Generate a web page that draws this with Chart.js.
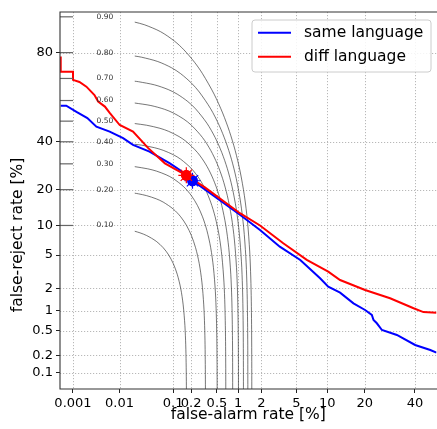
<!DOCTYPE html>
<html><head><meta charset="utf-8">
<script src="https://cdn.jsdelivr.net/npm/chart.js@4.4.1/dist/chart.umd.min.js"></script>
<style>html,body{margin:0;padding:0;background:#fff;}#wrap{width:437px;height:429px;position:relative;}</style>
</head><body><div id="wrap"><canvas id="c" width="437" height="429"></canvas></div>
<script>
// ---- axis ticks (percent) ----
const xTickValues = [0.001, 0.01, 0.1, 0.2, 0.5, 1, 2, 5, 10, 20, 40];
const xTickLabels = ['0.001', '0.01', '0.1', '0.2', '0.5', '1', '2', '5', '10', '20', '40'];
const yTickValues = [0.1, 0.2, 0.5, 1, 2, 5, 10, 20, 40, 80];
const yTickLabels = ['0.1', '0.2', '0.5', '1', '2', '5', '10', '20', '40', '80'];
const xLimits = [0.0005, 50];
const yLimits = [0.05, 91];
const xTitle = 'false-alarm rate [%]';
const yTitle = 'false-reject rate [%]';

// ---- series (false-alarm %, false-reject %) ----
const seriesNames = ['same language', 'diff language'];
const sameFA = [0.00052, 0.0007, 0.0012, 0.0021, 0.0033, 0.0063, 0.0118, 0.0185, 0.038, 0.088, 0.13, 0.21, 0.329, 1.054, 1.92, 3.3, 5.5, 8.6, 10.2, 12.9, 16.5, 20.1, 22.4, 23.0, 24.2, 26.1, 32.1, 40.1, 47.1, 50];
const sameFR = [57.5, 57.5, 54.5, 51.5, 47.3, 44.9, 41.7, 38.5, 35.4, 30.2, 27.4, 23.2, 20.1, 12.5, 9.07, 6.15, 4.41, 2.68, 2.10, 1.755, 1.26, 1.018, 0.863, 0.729, 0.651, 0.515, 0.431, 0.298, 0.247, 0.223];
const diffFA = [0.00052, 0.00052, 0.001, 0.001, 0.0014, 0.002, 0.003, 0.0036, 0.005, 0.0063, 0.0101, 0.0185, 0.036, 0.072, 0.1667, 0.329, 1.054, 1.92, 3.61, 6.4, 10.2, 12.9, 20.1, 29.3, 39.4, 43.9, 50];
const diffFR = [78.6, 72.8, 72.8, 69.4, 68.5, 66.4, 62.6, 59.5, 57.1, 54.0, 48.1, 44.9, 37.0, 30.2, 25.3, 20.8, 12.9, 10.0, 6.68, 4.41, 3.22, 2.55, 1.90, 1.48, 1.076, 0.95, 0.931];
// operating points (false-alarm %, false-reject %)
const samePoint = [0.21, 23.2];
const diffPoint = [0.1667, 25.3];

// ---- cost contours ----
const contourLevels = [0.10, 0.20, 0.30, 0.40, 0.50, 0.60, 0.70, 0.80, 0.90];
const contourLabels = ['0.10', '0.20', '0.30', '0.40', '0.50', '0.60', '0.70', '0.80', '0.90'];
const contourFA = [
  [0.02, 0.0252, 0.0336, 0.0504, 0.0672, 0.084, 0.1008, 0.1176, 0.1345, 0.1479, 0.158, 0.163, 0.1655, 0.1669, 0.1676, 0.1679, 0.168],
  [0.02, 0.0235, 0.0336, 0.0504, 0.0672, 0.1008, 0.1345, 0.168, 0.2016, 0.2352, 0.269, 0.2958, 0.316, 0.326, 0.331, 0.3338, 0.3352, 0.3358, 0.336],
  [0.02, 0.0353, 0.0504, 0.0756, 0.1008, 0.1512, 0.2016, 0.252, 0.3024, 0.3528, 0.4034, 0.4437, 0.474, 0.489, 0.4965, 0.5007, 0.5028, 0.5037, 0.504],
  [0.02, 0.0269, 0.047, 0.0672, 0.1008, 0.1345, 0.2017, 0.269, 0.336, 0.403, 0.470, 0.538, 0.5916, 0.632, 0.652, 0.662, 0.6676, 0.6704, 0.6716, 0.672],
  [0.02, 0.0336, 0.0588, 0.084, 0.126, 0.168, 0.252, 0.336, 0.42, 0.504, 0.588, 0.672, 0.7395, 0.79, 0.815, 0.8275, 0.8345, 0.838, 0.8395, 0.840],
  [0.02, 0.0403, 0.0706, 0.1008, 0.1512, 0.2017, 0.3025, 0.4034, 0.5042, 0.605, 0.706, 0.807, 0.8874, 0.948, 0.978, 0.993, 1.0014, 1.0056, 1.0074, 1.008],
  [0.02, 0.0235, 0.0471, 0.0824, 0.1176, 0.1765, 0.2353, 0.353, 0.4706, 0.588, 0.706, 0.8235, 0.941, 1.035, 1.106, 1.141, 1.1586, 1.168, 1.173, 1.1753, 1.176],
  [0.02, 0.0269, 0.0538, 0.0941, 0.1345, 0.2017, 0.269, 0.4034, 0.538, 0.672, 0.807, 0.941, 1.0756, 1.183, 1.264, 1.304, 1.324, 1.335, 1.341, 1.343, 1.344],
  [0.02, 0.0303, 0.0605, 0.1059, 0.1513, 0.2269, 0.3025, 0.4538, 0.605, 0.7563, 0.9076, 1.0588, 1.21, 1.331, 1.422, 1.467, 1.49, 1.502, 1.508, 1.511, 1.512]
];
const contourFR = [
  [8.81, 8.5, 8, 7, 6, 5, 4, 3, 2, 1.2, 0.6, 0.3, 0.15, 0.07, 0.03, 0.01, 0.003],
  [18.81, 18.6, 18, 17, 16, 14, 12, 10, 8, 6, 4, 2.4, 1.2, 0.6, 0.3, 0.14, 0.06, 0.02, 0.006],
  [28.81, 27.9, 27, 25.5, 24, 21, 18, 15, 12, 9, 6, 3.6, 1.8, 0.9, 0.45, 0.21, 0.09, 0.03, 0.009],
  [38.81, 38.4, 37.2, 36, 34, 32, 28, 24, 20, 16, 12, 8, 4.8, 2.4, 1.2, 0.6, 0.28, 0.12, 0.04, 0.012],
  [48.81, 48, 46.5, 45, 42.5, 40, 35, 30, 25, 20, 15, 10, 6, 3, 1.5, 0.75, 0.35, 0.15, 0.05, 0.015],
  [58.81, 57.6, 55.8, 54, 51, 48, 42, 36, 30, 24, 18, 12, 7.2, 3.6, 1.8, 0.9, 0.42, 0.18, 0.06, 0.018],
  [68.81, 68.6, 67.2, 65.1, 63, 59.5, 56, 49, 42, 35, 28, 21, 14, 8.4, 4.2, 2.1, 1.05, 0.49, 0.21, 0.07, 0.021],
  [78.81, 78.4, 76.8, 74.4, 72, 68, 64, 56, 48, 40, 32, 24, 16, 9.6, 4.8, 2.4, 1.2, 0.56, 0.24, 0.08, 0.024],
  [88.81, 88.2, 86.4, 83.7, 81, 76.5, 72, 63, 54, 45, 36, 27, 18, 10.8, 5.4, 2.7, 1.35, 0.63, 0.27, 0.09, 0.027]
];
const contourLabelFA = 0.005;      // where the level labels sit
const contourStubFA = [0.0005, 0.001];

// ---- normal-deviate (probit) transform ----
function probit(p) {
  const a = [-3.969683028665376e+01, 2.209460984245205e+02, -2.759285104469687e+02, 1.383577518672690e+02, -3.066479806614716e+01, 2.506628277459239e+00];
  const b = [-5.447609879822406e+01, 1.615858368580409e+02, -1.556989798598866e+02, 6.680131188771972e+01, -1.328068155288572e+01];
  const c = [-7.784894002430293e-03, -3.223964580411365e-01, -2.400758277161838e+00, -2.549732539343734e+00, 4.374664141464968e+00, 2.938163982698783e+00];
  const d = [7.784695709041462e-03, 3.224671290700398e-01, 2.445134137142996e+00, 3.754408661907416e+00];
  const pl = 0.02425, ph = 1 - pl; let q, r;
  if (p < pl) { q = Math.sqrt(-2 * Math.log(p)); return (((((c[0]*q+c[1])*q+c[2])*q+c[3])*q+c[4])*q+c[5]) / ((((d[0]*q+d[1])*q+d[2])*q+d[3])*q+1); }
  if (p <= ph) { q = p - 0.5; r = q*q; return (((((a[0]*r+a[1])*r+a[2])*r+a[3])*r+a[4])*r+a[5])*q / (((((b[0]*r+b[1])*r+b[2])*r+b[3])*r+b[4])*r+1); }
  q = Math.sqrt(-2 * Math.log(1 - p)); return -(((((c[0]*q+c[1])*q+c[2])*q+c[3])*q+c[4])*q+c[5]) / ((((d[0]*q+d[1])*q+d[2])*q+d[3])*q+1);
}
const pp = v => probit(v / 100);
const toPts = (fa, fr) => fa.map((v, i) => ({ x: pp(v), y: pp(fr[i]) }));

const FONT = "'DejaVu Sans', 'Liberation Sans', sans-serif";

const datasets = [];
contourFA.forEach((fa, k) => {
  datasets.push({ data: toPts(fa, contourFR[k]), showLine: true, borderColor: 'rgba(40,40,40,0.8)', borderWidth: 0.8,
    pointRadius: 0, tension: 0.3, clip: 0, order: 20 });
});
datasets.push({ label: seriesNames[0], data: toPts(sameFA, sameFR), showLine: true, borderColor: '#0000ff', borderWidth: 2, pointRadius: 0, tension: 0, clip: 0, order: 6 });
datasets.push({ label: seriesNames[1], data: toPts(diffFA, diffFR), showLine: true, borderColor: '#ff0000', borderWidth: 2, pointRadius: 0, tension: 0, clip: 0, order: 5 });
datasets.push({ data: [{ x: pp(samePoint[0]), y: pp(samePoint[1]) }], pointStyle: 'star', pointRadius: 8, borderColor: '#0000ff', pointBorderWidth: 1.2, backgroundColor: '#0000ff', order: 4 });
datasets.push({ data: [{ x: pp(samePoint[0]), y: pp(samePoint[1]) }], pointStyle: 'circle', pointRadius: 5.5, borderColor: '#0000ff', backgroundColor: '#0000ff', pointBorderWidth: 0, order: 3 });
datasets.push({ data: [{ x: pp(diffPoint[0]), y: pp(diffPoint[1]) }], pointStyle: 'star', pointRadius: 8, borderColor: '#ff0000', pointBorderWidth: 1.2, backgroundColor: '#ff0000', order: 2 });
datasets.push({ data: [{ x: pp(diffPoint[0]), y: pp(diffPoint[1]) }], pointStyle: 'circle', pointRadius: 5.5, borderColor: '#ff0000', backgroundColor: '#ff0000', pointBorderWidth: 0, order: 1 });

const gridPlugin = {
  id: 'detGrid',
  beforeDatasetsDraw(chart) {
    const { ctx, chartArea: ca, scales: { x, y } } = chart;
    ctx.save();
    ctx.strokeStyle = '#b0b0b0'; ctx.lineWidth = 0.9; ctx.setLineDash([1.2, 1.8]);
    xTickValues.forEach(v => { const px = Math.round(x.getPixelForValue(pp(v))) + 0.5; ctx.beginPath(); ctx.moveTo(px, ca.top); ctx.lineTo(px, ca.bottom); ctx.stroke(); });
    yTickValues.forEach(v => { const py = Math.round(y.getPixelForValue(pp(v))) + 0.5; ctx.beginPath(); ctx.moveTo(ca.left, py); ctx.lineTo(ca.right, py); ctx.stroke(); });
    ctx.restore();
  },
  afterDraw(chart) {
    const { ctx, chartArea: ca, scales: { x, y } } = chart;
    ctx.save();
    // contour stubs and labels
    ctx.strokeStyle = '#666'; ctx.lineWidth = 1.2;
    contourLevels.forEach((c, k) => {
      const py = y.getPixelForValue(probit(c));
      ctx.beginPath(); ctx.moveTo(x.getPixelForValue(pp(contourStubFA[0])), py); ctx.lineTo(x.getPixelForValue(pp(contourStubFA[1])), py); ctx.stroke();
      ctx.fillStyle = '#333'; ctx.font = '7.5px ' + FONT; ctx.textAlign = 'center'; ctx.textBaseline = 'middle';
      ctx.fillText(contourLabels[k], x.getPixelForValue(pp(contourLabelFA)), py);
    });
    // frame (left, bottom, top)
    ctx.strokeStyle = '#333'; ctx.lineWidth = 1.1;
    ctx.beginPath(); ctx.moveTo(ca.right + 2, ca.top); ctx.lineTo(ca.left, ca.top); ctx.lineTo(ca.left, ca.bottom); ctx.lineTo(ca.right + 2, ca.bottom); ctx.stroke();
    // axis titles
    ctx.fillStyle = '#000'; ctx.font = '15.5px ' + FONT; ctx.textAlign = 'center'; ctx.textBaseline = 'alphabetic';
    ctx.fillText(xTitle, (ca.left + ca.right) / 2, 419);
    ctx.save(); ctx.translate(22, 235); ctx.rotate(-Math.PI / 2); ctx.fillText(yTitle, 0, 0); ctx.restore();
    // legend
    const lx = 252, ly = 20, lw = 179, lh = 52;
    ctx.beginPath();
    if (ctx.roundRect) ctx.roundRect(lx, ly, lw, lh, 3); else ctx.rect(lx, ly, lw, lh);
    ctx.fillStyle = 'rgba(255,255,255,0.85)'; ctx.fill();
    ctx.strokeStyle = '#cccccc'; ctx.lineWidth = 1; ctx.stroke();
    const cols = ['#0000ff', '#ff0000'];
    seriesNames.forEach((name, i) => {
      const yy = 32.7 + i * 24;
      ctx.strokeStyle = cols[i]; ctx.lineWidth = 2;
      ctx.beginPath(); ctx.moveTo(258, yy); ctx.lineTo(291, yy); ctx.stroke();
      ctx.fillStyle = '#000'; ctx.font = '15.5px ' + FONT; ctx.textAlign = 'left'; ctx.textBaseline = 'middle';
      ctx.fillText(name, 304, yy + 0.5);
    });
    ctx.restore();
  }
};

const tickFont = { family: FONT, size: 13 };
new Chart(document.getElementById('c'), {
  type: 'scatter',
  data: { datasets },
  options: {
    responsive: false, animation: false, devicePixelRatio: 1,
    layout: { autoPadding: false, padding: { top: 12, right: 0.5, left: 0, bottom: 0 } },
    plugins: { legend: { display: false }, tooltip: { enabled: false } },
    scales: {
      x: {
        type: 'linear', min: pp(xLimits[0]), max: pp(xLimits[1]), bounds: 'data',
        afterBuildTicks: s => { s.ticks = xTickValues.map(v => ({ value: pp(v) })); },
        afterFit: s => { s.height = 40; s.paddingLeft = 0; s.paddingRight = 0; },
        ticks: { autoSkip: false, maxRotation: 0, minRotation: 0, padding: 3, color: '#000', font: tickFont, callback: (v, i) => xTickLabels[i] },
        grid: { display: true, drawOnChartArea: false, drawTicks: true, tickLength: 4, color: 'rgba(0,0,0,0)', tickColor: '#222', tickWidth: 1 },
        border: { display: false }
      },
      y: {
        type: 'linear', min: pp(yLimits[0]), max: pp(yLimits[1]), bounds: 'data',
        afterBuildTicks: s => { s.ticks = yTickValues.map(v => ({ value: pp(v) })); },
        afterFit: s => { s.width = 60; s.paddingTop = 0; s.paddingBottom = 0; },
        ticks: { autoSkip: false, padding: 3, color: '#000', font: tickFont, callback: (v, i) => yTickLabels[i] },
        grid: { display: true, drawOnChartArea: false, drawTicks: true, tickLength: 4, color: 'rgba(0,0,0,0)', tickColor: '#222', tickWidth: 1 },
        border: { display: false }
      }
    }
  },
  plugins: [gridPlugin]
});
</script></body></html>
